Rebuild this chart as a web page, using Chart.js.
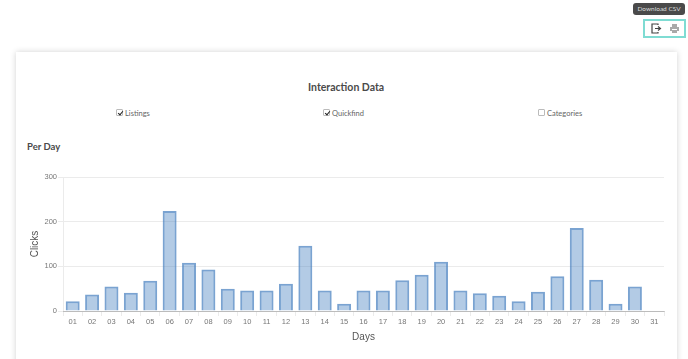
<!DOCTYPE html>
<html>
<head>
<meta charset="utf-8">
<title>Interaction Data</title>
<script src="https://cdn.jsdelivr.net/npm/chart.js@4/dist/chart.umd.min.js"></script>
<style>
html, body { margin: 0; padding: 0; background: #fff; }
body { width: 688px; height: 359px; overflow: hidden; position: relative; font-family: "Open Sans", sans-serif; color: #555; }
.tip { position: absolute; left: 633px; top: 3px; width: 52px; height: 12px; line-height: 12px; background: #4a4a4a; border-radius: 3px; color: #ddd; font-family: Lato, sans-serif; font-size: 6.5px; text-align: center; }
.tools { position: absolute; left: 643px; top: 19px; width: 39px; height: 15px; border: 2px solid #7fdcd3; }
.tools svg { position: absolute; top: 2px; }
.card { position: absolute; left: 16px; top: 52px; width: 661px; height: 330px; background: #fff; box-shadow: 0 0 6px rgba(0,0,0,0.18); }
h1, h2 { position: absolute; margin: 0; font-family: Lato, sans-serif; font-weight: 700; color: #4a4a4a; white-space: nowrap; }
h1 { left: 308px; top: 79px; font-size: 10.5px; line-height: 16px; }
h2 { left: 27px; top: 140px; font-size: 9.5px; line-height: 14px; }
label { position: absolute; top: 108px; font-family: Lato, sans-serif; font-size: 7.5px; line-height: 12px; color: #666; white-space: nowrap; }
label input { appearance: none; position: absolute; left: 0; top: 1px; margin: 0; width: 7px; height: 7px; background: #fff; border: 1px solid #bbb; border-radius: 1px; }
label input:checked::after { content: ""; position: absolute; left: 2px; top: 0; width: 2px; height: 4px; border: solid #222; border-width: 0 1.5px 1.5px 0; transform: rotate(40deg); }
label span { margin-left: 9px; }
canvas { position: absolute; left: 20px; top: 165px; }
</style>
</head>
<body>
<div class="tip">Download CSV</div>
<div class="tools">
    <svg style="left:6px" width="11" height="11" viewBox="0 0 11 11">
        <path d="M7 2V1H1v9h6V9" fill="none" stroke="#444" stroke-width="1.2"/>
        <path d="M4 5.5h4.5M7 3.5l2.5 2-2.5 2" fill="none" stroke="#444" stroke-width="1.2"/>
    </svg>
    <svg style="left:24px" width="11" height="11" viewBox="0 0 11 11">
        <path d="M3 1h5v3H3zM1 4h9v4H8V6H3v2H1zM3 7h5v3H3z" fill="#a9a9a9"/>
    </svg>
</div>
<div class="card"></div>
<h1>Interaction Data</h1>
<label style="left:116px"><input type="checkbox" checked><span>Listings</span></label>
<label style="left:323px"><input type="checkbox" checked><span>Quickfind</span></label>
<label style="left:538px"><input type="checkbox"><span>Categories</span></label>
<h2>Per Day</h2>
<canvas id="myChart" width="660" height="194"></canvas>
<script>
const days = ["01", "02", "03", "04", "05", "06", "07", "08", "09", "10", "11", "12", "13", "14", "15", "16",
    "17", "18", "19", "20", "21", "22", "23", "24", "25", "26", "27", "28", "29", "30", "31"];
const clicks = [22, 37, 55, 41, 68, 224, 108, 93, 50, 46, 46, 61, 146, 46, 16, 46,
    46, 69, 81, 110, 46, 40, 34, 22, 43, 78, 186, 70, 16, 55, 0];
const yTicks = [0, 100, 200, 300];

const config = {
    type: "bar",
    data: {
        labels: days,
        datasets: [
            {
                label: "Clicks",
                data: clicks,
                backgroundColor: "rgba(66,124,189,0.4)",
                borderColor: "rgba(66,124,189,0.7)",
                borderWidth: 2,
            },
        ],
    },
    options: {
        responsive: false,
        animation: false,
        layout: { padding: { left: 0, right: 16, top: 12, bottom: 0 } },
        plugins: { legend: { display: false }, tooltip: { enabled: false } },
        scales: {
            x: {
                grid: { drawOnChartArea: false, color: "rgba(0,0,0,0.08)", tickLength: 5 },
                border: { color: "rgba(0,0,0,0.2)" },
                ticks: { color: "#777", font: { family: "Liberation Sans", size: 7.5 }, maxRotation: 0, autoSkip: false, padding: 1 },
                title: { display: true, text: "Days", color: "#555", font: { family: "Liberation Sans", size: 10 }, padding: { top: 4, bottom: 16 } },
                afterFit: (axis) => { axis.height = 48; },
            },
            y: {
                min: 0,
                max: 300,
                afterBuildTicks: (axis) => { axis.ticks = yTicks.map((v) => ({ value: v })); },
                grid: { color: "rgba(0,0,0,0.08)", tickLength: 5 },
                border: { color: "rgba(0,0,0,0.08)" },
                ticks: { color: "#777", font: { family: "Liberation Sans", size: 7.5 }, padding: 1 },
                title: { display: true, text: "Clicks", color: "#555", font: { family: "Liberation Sans", size: 10 }, padding: { top: 9, bottom: 0 } },
                afterFit: (axis) => { axis.width = 43; },
            },
        },
    },
};

const myChart = new Chart(document.getElementById("myChart"), config);
</script>
</body>
</html>
